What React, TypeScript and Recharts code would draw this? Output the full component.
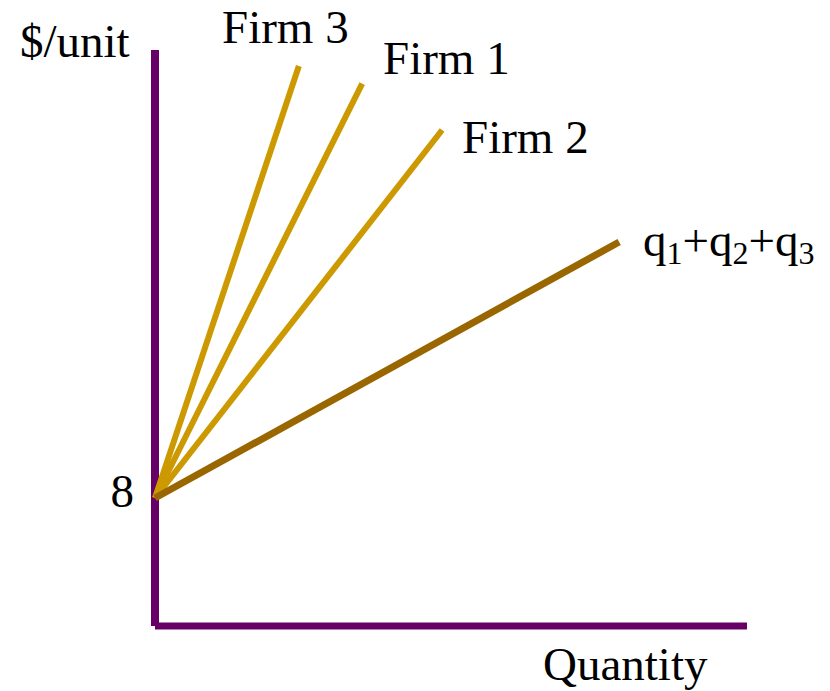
import React from 'react'
import { LineChart, Line, XAxis, YAxis, ReferenceLine } from 'recharts'

// curves start at price 8, quantity 0
const firm3 = [{ x: 0, y: 8 }, { x: 24.3, y: 35.0 }]
const firm1 = [{ x: 0, y: 8 }, { x: 35.0, y: 33.9 }]
const firm2 = [{ x: 0, y: 8 }, { x: 48.5, y: 31.0 }]
const total = [{ x: 0, y: 8 }, { x: 78.4, y: 24.0 }]

const gold = '#CC9900'
const brown = '#996600'
const purple = '#660066'
const font = '"Liberation Serif", "Times New Roman", serif'

export default function App() {
  return (
    <div style={{ position: 'absolute', left: 0, top: 0, width: 830, height: 691, background: '#fff' }}>
      <LineChart width={830} height={691} margin={{ top: 50, right: 83, bottom: 65, left: 155 }}>
        <XAxis type="number" dataKey="x" domain={[0, 100]} hide />
        <YAxis type="number" dataKey="y" domain={[0, 36]} hide />
        <ReferenceLine x={0} stroke={purple} strokeWidth={8} />
        <ReferenceLine y={0} stroke={purple} strokeWidth={7} />
        <Line data={firm3} dataKey="y" stroke={gold} strokeWidth={6} dot={false} isAnimationActive={false} />
        <Line data={firm1} dataKey="y" stroke={gold} strokeWidth={6} dot={false} isAnimationActive={false} />
        <Line data={firm2} dataKey="y" stroke={gold} strokeWidth={6} dot={false} isAnimationActive={false} />
        <Line data={total} dataKey="y" stroke={brown} strokeWidth={7} dot={false} isAnimationActive={false} />
      </LineChart>
      <svg width={830} height={691} style={{ position: 'absolute', left: 0, top: 0, pointerEvents: 'none' }}>
        <g fontFamily={font} fontSize={47} fill="#000">
          <text x={20} y={57}>$/unit</text>
          <text x={222} y={43}>Firm 3</text>
          <text x={383} y={74}>Firm 1</text>
          <text x={462} y={153}>Firm 2</text>
          <text x={134} y={507} textAnchor="end">8</text>
          <text x={543} y={680}>Quantity</text>
          <text x={643} y={256}>
            q<tspan fontSize={32} dy={8}>1</tspan>
            <tspan dy={-8}>+q</tspan><tspan fontSize={32} dy={8}>2</tspan>
            <tspan dy={-8}>+q</tspan><tspan fontSize={32} dy={8}>3</tspan>
          </text>
        </g>
      </svg>
    </div>
  )
}
